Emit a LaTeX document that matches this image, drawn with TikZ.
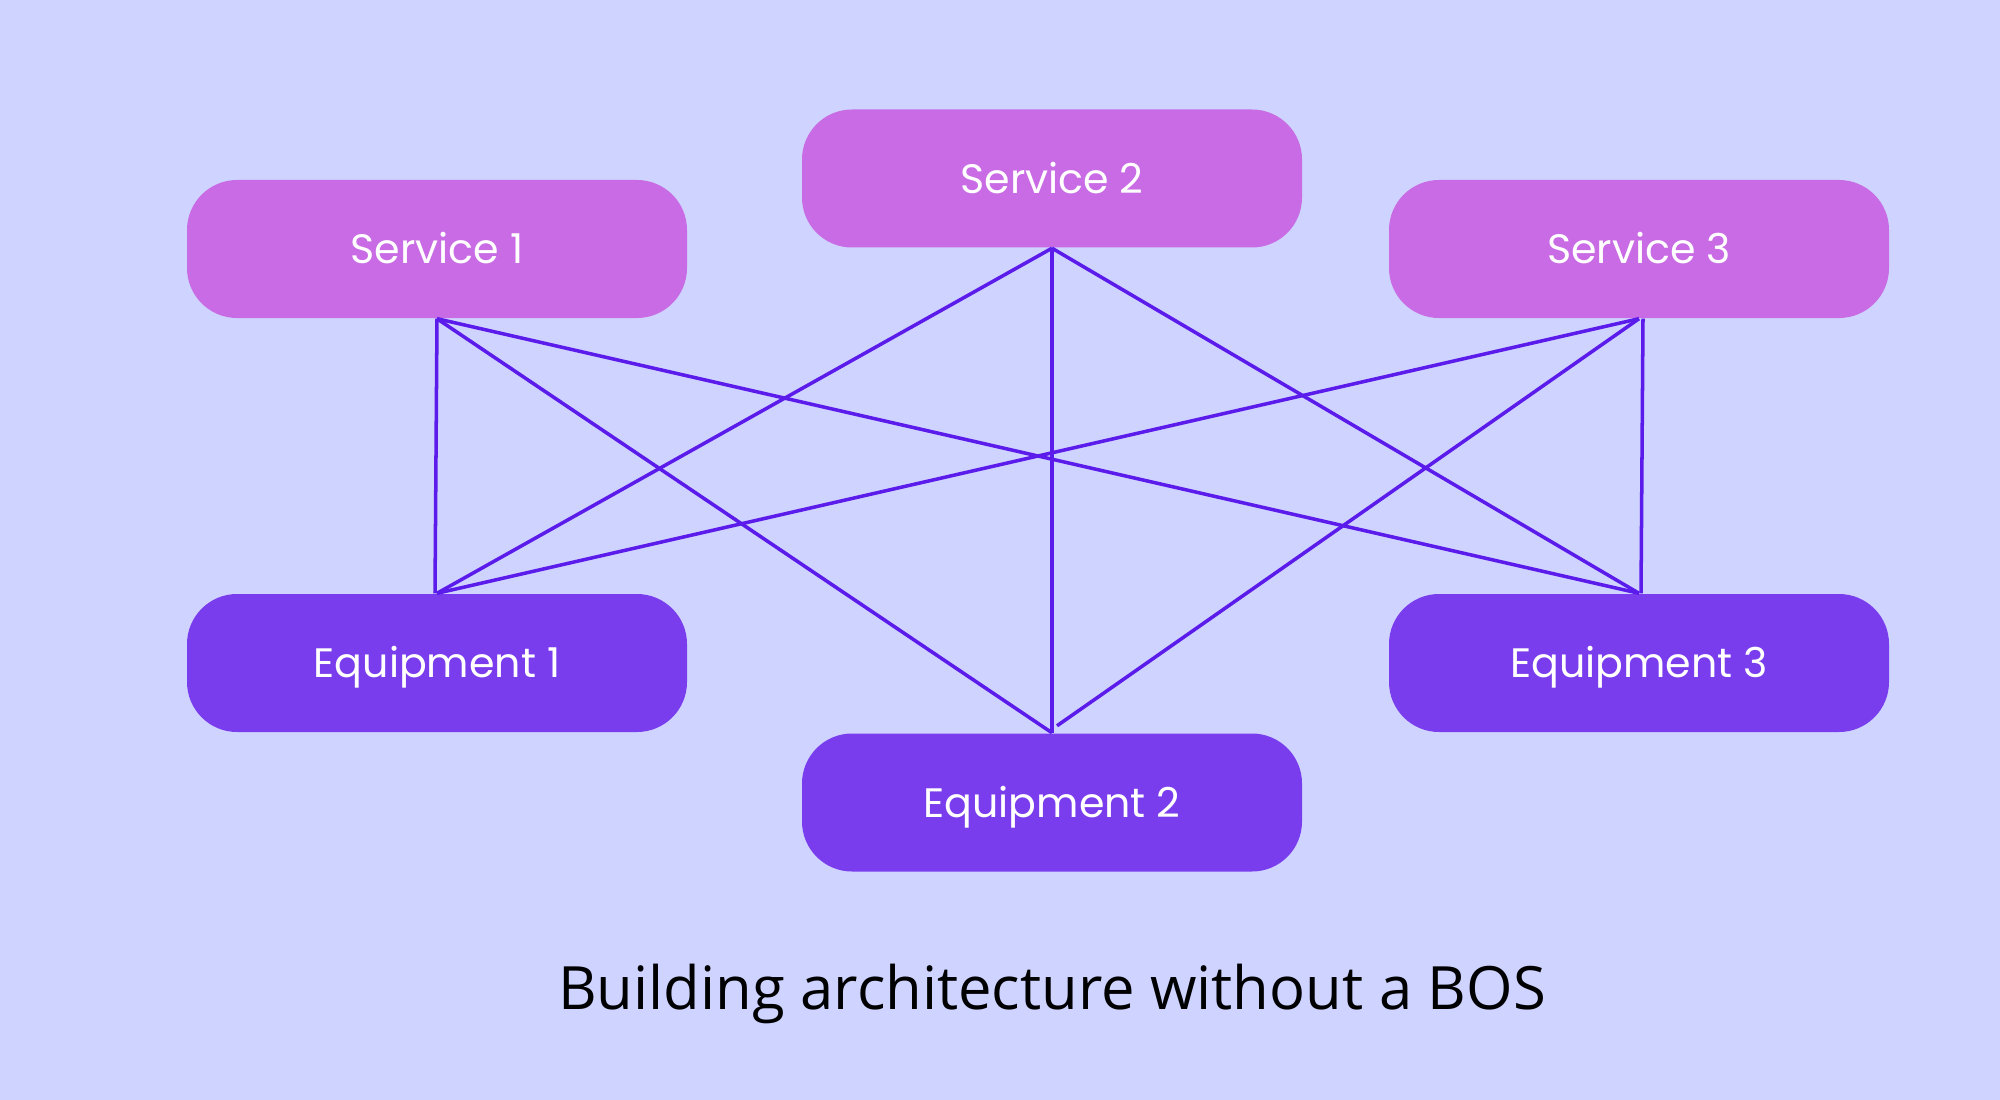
\documentclass[tikz,border=0pt]{standalone}
\usepackage{fontspec}
\setmainfont{Poppins}
\newfontfamily\capfont{Open Sans}
\definecolor{bgc}{HTML}{CED3FF}
\definecolor{servc}{HTML}{C86BE5}
\definecolor{equipc}{HTML}{7A3DED}
\definecolor{linec}{HTML}{5B1BEB}
\begin{document}
\begin{tikzpicture}[
  box/.style={minimum width=5cm, minimum height=1.38cm, rounded corners=0.5cm, inner sep=0pt, text=white, font=\fontsize{11.7}{13}\selectfont, text height=0.85em, text depth=0pt},
  serv/.style={box, fill=servc},
  equip/.style={box, fill=equipc},
  conn/.style={draw=linec, line width=1pt}
]
\fill[bgc] (0,0) rectangle (20,-11);
\useasboundingbox (0,0) rectangle (20,-11);
\node[serv] (s1) at (4.37,-2.49) {Service 1};
\node[serv] (s2) at (10.52,-1.785) {Service 2};
\node[serv] (s3) at (16.39,-2.49) {Service 3};
\node[equip] (e1) at (4.37,-6.63) {Equipment 1};
\node[equip] (e2) at (10.52,-8.025) {Equipment 2};
\node[equip] (e3) at (16.39,-6.63) {Equipment 3};
\draw[conn] (s1.south) -- ([xshift=-0.02cm]e1.north);
\draw[conn] (s1.south) -- (e2.north);
\draw[conn] (s1.south) -- (e3.north);
\draw[conn] (s2.south) -- (e1.north);
\draw[conn] (s2.south) -- (e2.north);
\draw[conn] (s2.south) -- (e3.north);
\draw[conn] (s3.south) -- (e1.north);
\draw[conn] (s3.south) -- ([shift={(0.05cm,0.07cm)}]e2.north);
\draw[conn] ([xshift=0.04cm]s3.south) -- ([xshift=0.02cm]e3.north);
\node[font=\capfont\fontsize{17}{20}\selectfont, text=black] (cap) at (10.52,-9.94) {Building architecture without a BOS};
\end{tikzpicture}
\end{document}
